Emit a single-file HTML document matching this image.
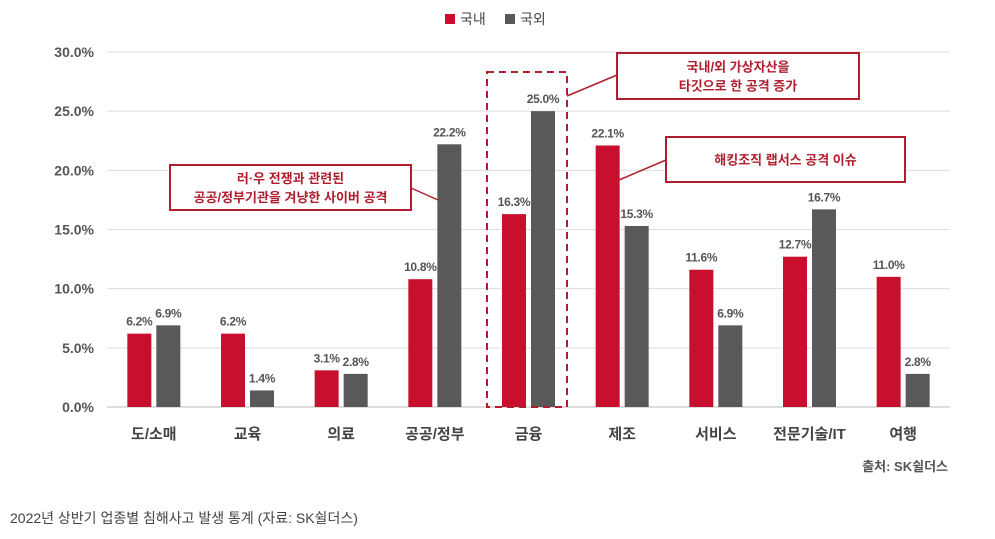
<!DOCTYPE html>
<html><head><meta charset="utf-8">
<style>
body{margin:0;background:#fff;width:995px;height:539px;overflow:hidden;font-family:"Liberation Sans","Noto Sans CJK KR",sans-serif;}
svg{position:absolute;left:0;top:0}
</style></head>
<body>
<svg id="chart" width="995" height="539"></svg>
<script>
const categories=["도/소매","교육","의료","공공/정부","금융","제조","서비스","전문기술/IT","여행"];
const domestic=[6.2,6.2,3.1,10.8,16.3,22.1,11.6,12.7,11.0];
const overseas=[6.9,1.4,2.8,22.2,25.0,15.3,6.9,16.7,2.8];
const yTicks=[0,5,10,15,20,25,30];
const FONT='"Liberation Sans","Noto Sans CJK KR",sans-serif';
const svg=document.getElementById('chart');
const NS='http://www.w3.org/2000/svg';
function el(t,a,txt){const e=document.createElementNS(NS,t);for(const k in a)e.setAttribute(k,a[k]);if(txt!==undefined)e.textContent=txt;svg.appendChild(e);return e;}
const y0=407,pxPer=355/30,left=107,right=950;
const yS=v=>y0-v*pxPer;
const step=(right-left)/categories.length;
const xC=i=>left+step*(i+0.5);
yTicks.forEach(t=>{
  const g=el('line',{x1:left,x2:right,y1:yS(t),y2:yS(t),stroke:t===0?'#bbb':'#ddd','stroke-width':1});
  
  
  const l=el('text',{x:94,y:yS(t)+5,'text-anchor':'end','font-size':14,'font-weight':'bold',fill:'#555','font-family':FONT},t.toFixed(1)+'%');
  
  
});
const bw=24,gap=5;
categories.forEach((c,i)=>{
  const cx=xC(i);
  const xr=cx-gap/2-bw, xg=cx+gap/2;
  const r=el('rect',{x:xr,y:yS(domestic[i]),width:bw,height:domestic[i]*pxPer,fill:'#c8102e'});
  
  
  const g=el('rect',{x:xg,y:yS(overseas[i]),width:bw,height:overseas[i]*pxPer,fill:'#595959'});
  
  
  const t1=el('text',{x:xr+bw/2,y:yS(domestic[i])-8,'text-anchor':'middle','font-size':12,'letter-spacing':'-0.3','font-weight':'bold',fill:'#555','font-family':FONT},domestic[i].toFixed(1)+'%');
  
  
  const t2=el('text',{x:xg+bw/2,y:yS(overseas[i])-8,'text-anchor':'middle','font-size':12,'letter-spacing':'-0.3','font-weight':'bold',fill:'#555','font-family':FONT},overseas[i].toFixed(1)+'%');
  
  
  const cl=el('text',{x:cx,y:439,'text-anchor':'middle','font-size':15,'font-weight':'bold',fill:'#444','font-family':FONT},c);
  
  
});
let a=el('rect',{x:445,y:14,width:10,height:10,fill:'#c8102e'});
a=el('text',{x:460,y:24,'font-size':14,fill:'#444','font-family':FONT},'국내');
a=el('rect',{x:505,y:14,width:10,height:10,fill:'#595959'});
a=el('text',{x:520,y:24,'font-size':14,fill:'#444','font-family':FONT},'국외');
a=el('rect',{x:487,y:72,width:80,height:335,fill:'none',stroke:'#b01e2e','stroke-width':2,'stroke-dasharray':'7,5'});
function callout(name,x,y,w,h,lines,lx1,ly1,lx2,ly2){
  const l=el('line',{x1:lx1,y1:ly1,x2:lx2,y2:ly2,stroke:'#b01e2e','stroke-width':1.5});
  
  
  const r=el('rect',{x:x,y:y,width:w,height:h,fill:'#fff',stroke:'#b01e2e','stroke-width':2});
  
  
  lines.forEach((s,k)=>{
    const t=el('text',{x:x+w/2,y:y+h/2+5+(k-(lines.length-1)/2)*19,'text-anchor':'middle','font-size':13,'font-weight':'bold',fill:'#b01e2e','font-family':FONT},s);
    
    
  });
}
callout('crypto-callout',617,53,242,46,['국내/외 가상자산을','타깃으로 한 공격 증가'],567,96,617,75);
callout('lapsus-callout',666,137,239,45,['해킹조직 랩서스 공격 이슈'],619,180,666,160);
callout('war-callout',170,165,241,45,['러·우 전쟁과 관련된','공공/정부기관을 겨냥한 사이버 공격'],411,188,438,200);
a=el('text',{x:948,y:471,'text-anchor':'end','font-size':13,'font-weight':'bold',fill:'#555','font-family':FONT},'출처: SK쉴더스');
a=el('text',{x:10,y:523,'font-size':14,fill:'#444','font-family':FONT},'2022년 상반기 업종별 침해사고 발생 통계 (자료: SK쉴더스)');
</script>
</body></html>
